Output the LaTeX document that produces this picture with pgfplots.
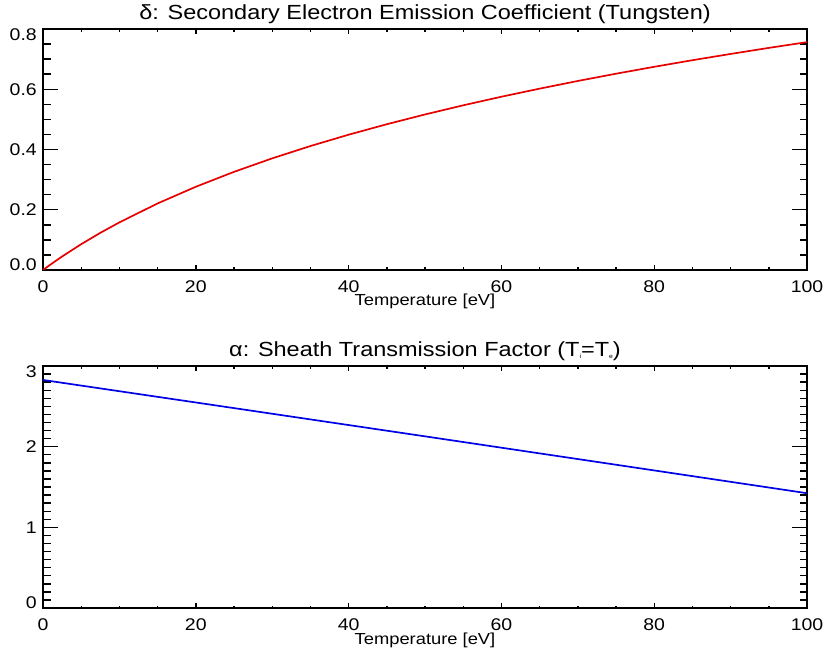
\documentclass[border=0pt]{standalone}
\usepackage{fontspec}
\setmainfont{Liberation Sans}[FakeStretch=1.15]
\usepackage{pgfplots}
\pgfplotsset{compat=1.18}
\definecolor{IdlRed}{RGB}{230,0,0}
\definecolor{IdlBlue}{RGB}{0,0,230}

\pgfplotsset{
  idl/.style={
    scale only axis, width=764bp, anchor=south west,
    xmin=0, xmax=100, xtick={0,20,...,100}, minor x tick num=3,
    tick pos=both, tick align=inside,
    axis line style={line width=1.4bp},
    every tick/.style={black, line width=1.4bp},
    xtick style={/pgfplots/major tick length=5bp, /pgfplots/minor tick length=2.5bp},
    ytick style={/pgfplots/major tick length=15bp, /pgfplots/minor tick length=7.5bp},
    /pgf/number format/assume math mode=true,
    tick label style={font=\fontsize{17}{17}\selectfont},
    xticklabel style={inner sep=0pt, anchor=north, yshift=-10bp},
    yticklabel style={inner sep=0pt, anchor=east, xshift=-6bp},
    xlabel={Temperature [eV]},
    xlabel style={at={(axis description cs:0.5,0)}, anchor=base, yshift=-36bp,
      font=\fontsize{16}{16}\selectfont},
    title style={at={(axis description cs:0.5,1)}, anchor=base, yshift=4bp,
      font=\fontsize{20.5}{20.5}\selectfont},
  }
}
% end labels of the y axes sit inside the box, as in the original
\newcommand{\lowlab}[1]{\smash{\raisebox{-0.5bp}{#1}}}
\newcommand{\highlab}[1]{\smash{\raisebox{-11.5bp}{#1}}}
\newcommand{\sub}[1]{\raisebox{-2bp}{\fontsize{6}{6}\selectfont #1}}

\begin{document}
\begin{tikzpicture}
\path[use as bounding box] (0bp,0bp) rectangle (825bp,661bp);

% top panel: secondary electron emission coefficient
\begin{axis}[idl, at={(43bp,391bp)}, height=241bp,
  ymin=0, ymax=0.8, ytick={0,0.2,0.4,0.6,0.8}, minor y tick num=3,
  yticklabels={\lowlab{0.0},0.2,0.4,0.6,\highlab{0.8}},
  title={δ: Secondary Electron Emission Coefficient (Tungsten)}]
\addplot[IdlRed, line width=1.7bp] coordinates {
  (0,0) (1,0.0184) (2.5,0.0448) (5,0.0857) (7.5,0.1233) (10,0.1581)
  (15,0.2209) (20,0.2763) (25,0.3258) (30,0.3706) (35,0.4115)
  (40,0.4491) (45,0.4839) (50,0.5163) (55,0.5467) (60,0.5752)
  (65,0.6020) (70,0.6275) (75,0.6516) (80,0.6745) (85,0.6964)
  (90,0.7172) (95,0.7373) (100,0.7564)
};
\end{axis}

% bottom panel: sheath transmission factor
\begin{axis}[idl, at={(43bp,53bp)}, height=242bp,
  ymin=0, ymax=3, ytick={0,1,2,3}, minor y tick num=9,
  yticklabels={\lowlab{0},1,2,\highlab{3}},
  title={α: Sheath Transmission Factor (T\sub{i}=T\sub{e})}]
\addplot[IdlBlue, line width=1.7bp] coordinates {
  (0,2.827) (25,2.478) (50,2.128) (75,1.776) (100,1.423)
};
\end{axis}
\end{tikzpicture}
\end{document}
